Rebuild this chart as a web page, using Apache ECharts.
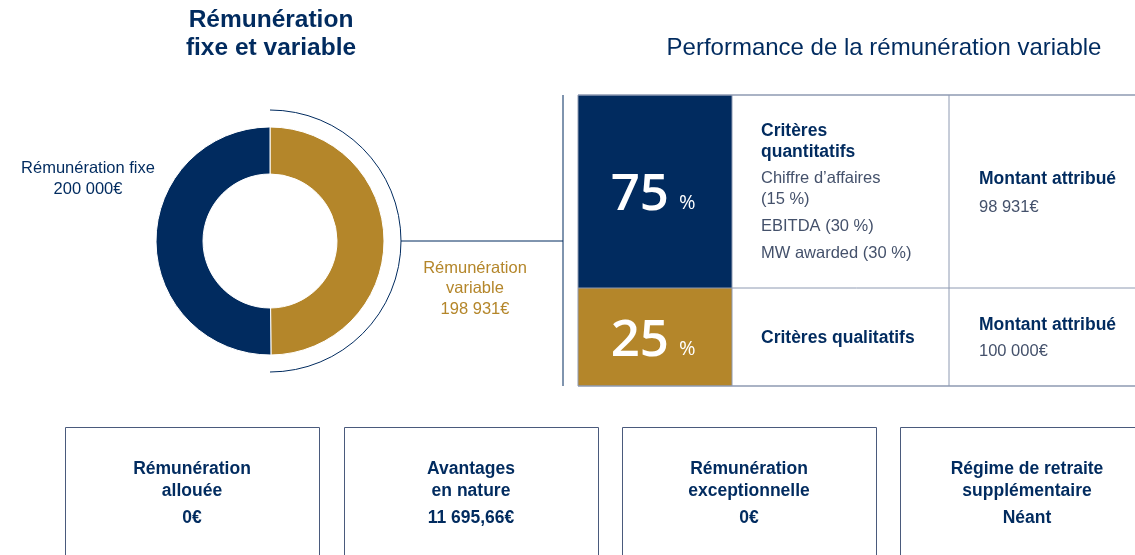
<!DOCTYPE html>
<html>
<head>
<meta charset="utf-8">
<script src="https://cdn.jsdelivr.net/npm/echarts@6/dist/echarts.min.js"></script>
<style>
  html, body { margin: 0; padding: 0; background: #fff; }
  #main { width: 1135px; height: 555px; }
</style>
</head>
<body>
<div id="main"></div>
<script>
// donut data
const sliceNames = ['Rémunération variable', 'Rémunération fixe']
const sliceValues = [198931, 200000]
const sliceLabels = [['Rémunération', 'variable', '198 931€'], ['Rémunération fixe', '200 000€']]

// performance table
const shares = ['75', '25']
const criteriaTitles = [['Critères', 'quantitatifs'], ['Critères qualitatifs']]
const criteriaDetails = [['Chiffre d\u2019affaires', '(15 %)', 'EBITDA (30 %)', 'MW awarded (30 %)'], []]
const amounts = ['98 931€', '100 000€']

// bottom boxes
const boxTitles = [['Rémunération', 'allouée'], ['Avantages', 'en nature'], ['Rémunération', 'exceptionnelle'], ['Régime de retraite', 'supplémentaire']]
const boxValues = ['0€', '11 695,66€', '0€', 'Néant']

const navy = '#012b5f'
const gold = '#b4862a'
const grid = '#8e9ab2'
const textGrey = '#44516b'
const font = '"Liberation Sans", Arial, sans-serif'

const chart = echarts.init(document.getElementById('main'))
const g = []

function txt(x, y, s, opt) {
  g.push({
    type: 'text', x: x, y: y,
    style: Object.assign({
      text: s, fill: navy, font: '16.5px ' + font,
      textAlign: 'left', textVerticalAlign: 'middle'
    }, opt || {})
  })
}
function line(x1, y1, x2, y2, color, w) {
  g.push({ type: 'line', shape: { x1: x1, y1: y1, x2: x2, y2: y2 }, style: { stroke: color, lineWidth: w || 1 } })
}

// titles
txt(271, 20, 'Rémunération', { font: 'bold 24.5px ' + font, textAlign: 'center' })
txt(271, 48, 'fixe et variable', { font: 'bold 24.5px ' + font, textAlign: 'center' })
txt(884, 48, 'Performance de la rémunération variable', { font: '24px ' + font, textAlign: 'center' })

// donut labels
txt(88, 168, sliceLabels[1][0], { textAlign: 'center' })
txt(88, 189, sliceLabels[1][1], { textAlign: 'center' })
sliceLabels[0].forEach((s, i) => txt(475, 268 + i * 20.5, s, { textAlign: 'center', fill: gold }))

// bracket arc and connector
g.push({
  type: 'arc',
  shape: { cx: 270, cy: 241, r: 131, startAngle: -Math.PI / 2, endAngle: Math.PI / 2, clockwise: true },
  style: { stroke: navy, lineWidth: 1, fill: null }
})
line(401, 241, 563, 241, navy, 1)
line(563, 95, 563, 386, navy, 1)

// table cells
const rowTop = [95, 288]
const rowBot = [288, 386]
const fills = [navy, gold]
shares.forEach((v, i) => {
  g.push({ type: 'rect', shape: { x: 578, y: rowTop[i], width: 154, height: rowBot[i] - rowTop[i] }, style: { fill: fills[i] } })
  const cy = i === 0 ? 195 : 341
  txt(669, cy, v, { fill: '#fff', font: '600 51px "Open Sans", sans-serif', textAlign: 'right' })
  txt(679, cy + 8, '%', { fill: '#fff', font: '20px "Open Sans", sans-serif' })
})
line(578, 95, 1135, 95, grid, 1.5)
line(578, 288, 1135, 288, grid, 1)
line(578, 386, 1135, 386, grid, 1.5)
line(578, 95, 578, 386, grid, 1)
line(732, 95, 732, 386, grid, 1)
line(949, 95, 949, 386, grid, 1)

// column 2
criteriaTitles[0].forEach((s, i) => txt(761, 131 + i * 21.5, s, { font: 'bold 17.5px ' + font }))
criteriaDetails[0].forEach((s, i) => txt(761, [178, 199, 226, 253][i], s, { fill: textGrey }))
txt(761, 338, criteriaTitles[1][0], { font: 'bold 17.5px ' + font })

// column 3
txt(979, 179, 'Montant attribué', { font: 'bold 17.5px ' + font })
txt(979, 207, amounts[0], { fill: textGrey })
txt(979, 325, 'Montant attribué', { font: 'bold 17.5px ' + font })
txt(979, 351, amounts[1], { fill: textGrey })

// bottom boxes
const boxX = [65, 344, 622, 900]
boxTitles.forEach((t, i) => {
  g.push({ type: 'rect', shape: { x: boxX[i] + 0.5, y: 427.5, width: 254, height: 140 }, style: { fill: null, stroke: '#4a5a7c', lineWidth: 1 } })
  const cx = boxX[i] + 127
  txt(cx, 469, t[0], { font: 'bold 17.5px ' + font, textAlign: 'center' })
  txt(cx, 491, t[1], { font: 'bold 17.5px ' + font, textAlign: 'center' })
  txt(cx, 518, boxValues[i], { font: 'bold 17.5px ' + font, textAlign: 'center' })
})

chart.setOption({
  animation: false,
  series: [{
    type: 'pie',
    center: [270, 241],
    radius: [67, 114],
    startAngle: 90,
    clockwise: true,
    label: { show: false },
    labelLine: { show: false },
    itemStyle: { borderColor: '#fff', borderWidth: 1 },
    data: sliceNames.map((n, i) => ({ name: n, value: sliceValues[i], itemStyle: { color: fills[i === 0 ? 1 : 0] } }))
  }],
  graphic: g
})
</script>
</body>
</html>
